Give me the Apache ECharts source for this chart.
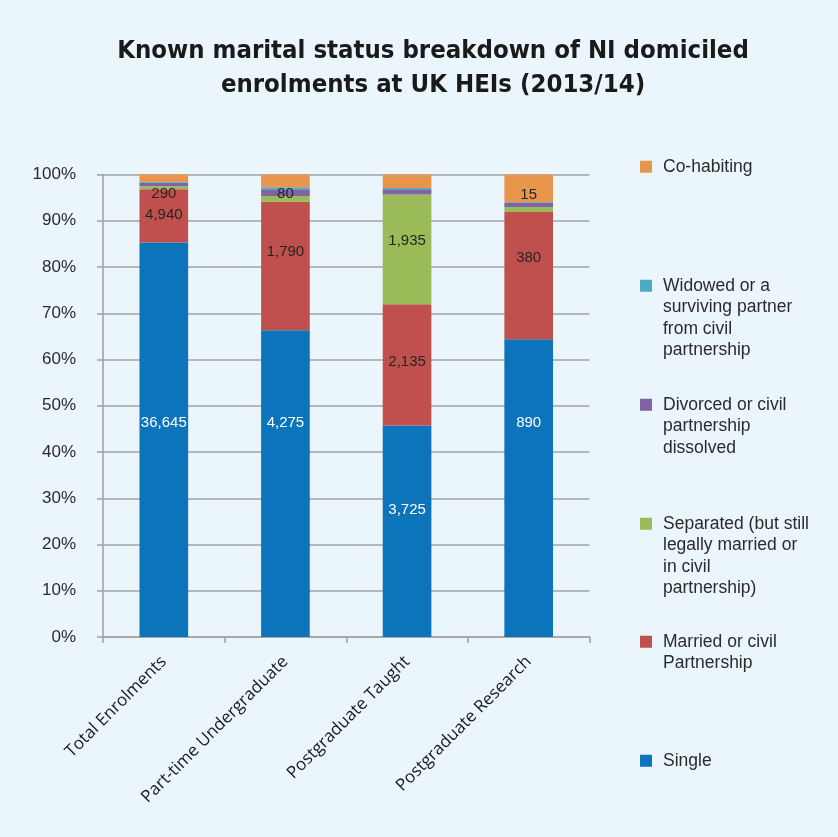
<!DOCTYPE html>
<html>
<head>
<meta charset="utf-8">
<script src="https://cdn.jsdelivr.net/npm/echarts@6/dist/echarts.min.js"></script>
<style>
  html, body { margin: 0; padding: 0; background: #EBF5FC; }
  #chart { width: 838px; height: 837px; }
</style>
</head>
<body>
<div id="chart"></div>
<script>
// Enrolment counts by marital status
const categories = ['Total Enrolments', 'Part-time Undergraduate', 'Postgraduate Taught', 'Postgraduate Research'];
const single     = [36645, 4275, 3725, 890];
const married    = [4940, 1790, 2135, 380];
const separated  = [290, 80, 1935, 15];
const divorced   = [320, 93, 94, 13];
const widowed    = [60, 28, 18, 2];
const cohabiting = [700, 177, 240, 82];

const seriesNames = ['Single', 'Married or civil Partnership', 'Separated (but still legally married or in civil partnership)',
  'Divorced or civil partnership dissolved', 'Widowed or a surviving partner from civil partnership', 'Co-habiting'];
const legendLabels = ['Single', 'Married or civil\nPartnership', 'Separated (but still\nlegally married or\nin civil\npartnership)',
  'Divorced or civil\npartnership\ndissolved', 'Widowed or a\nsurviving partner\nfrom civil\npartnership', 'Co-habiting'];

const counts = [single, married, separated, divorced, widowed, cohabiting];
const colors = ['#0B74BB', '#C0504D', '#9BBB59', '#8064A2', '#4BACC6', '#E8964C'];
const labelled = [true, true, true, false, false, false];
const labelColors = ['#FFFFFF', '#262626', '#262626'];
// vertical nudges for the value labels (px)
const labelShift = [
  [-17, -61, -21, -65],
  [-1, -14, -3, -18],
  [6, -5, -9, -15]
];
// legend entries: top of first text line (px)
const legendTops = [750, 631, 513, 394, 275, 156];

const totals = categories.map((_, i) => counts.reduce((s, arr) => s + arr[i], 0));

const series = counts.map((arr, si) => ({
  name: seriesNames[si],
  type: 'bar',
  stack: 'all',
  barWidth: '40%',
  itemStyle: { color: colors[si] },
  emphasis: { disabled: true },
  data: arr.map((v, i) => {
    const item = { value: v / totals[i] * 100 };
    if (labelled[si]) item.label = { offset: [0, labelShift[si][i]] };
    return item;
  }),
  label: {
    show: labelled[si],
    position: 'inside',
    color: labelColors[si] || '#262626',
    fontFamily: 'Liberation Sans',
    fontSize: 15,
    formatter: p => arr[p.dataIndex].toLocaleString('en-US')
  }
}));

const LH = 21.5;
const legends = seriesNames.map((name, si) => {
  const lines = legendLabels[si].split('\n').length;
  const H = lines * LH;
  const c = LH / 2;
  const icon = 'path://M0,0h0.05v0.05h-0.05z M0,' + (c - 6) + 'h12v12h-12z M17.95,' + (H - 0.05) + 'h0.05v0.05h-0.05z';
  return {
    data: [{ name: name, icon: icon }],
    orient: 'vertical',
    left: 640,
    top: legendTops[si],
    padding: 0,
    itemWidth: 18,
    itemHeight: H,
    selectedMode: false,
    formatter: () => legendLabels[si],
    textStyle: { fontFamily: 'Liberation Sans', fontSize: 17.5, lineHeight: LH, color: '#2b2b2b' }
  };
});

const chart = echarts.init(document.getElementById('chart'), null, { renderer: 'canvas' });
chart.setOption({
  backgroundColor: '#EBF5FC',
  animation: false,
  title: {
    text: 'Known marital status breakdown of NI domiciled\nenrolments at UK HEIs (2013/14)',
    left: 428,
    textAlign: 'center',
    top: 29,
    textStyle: {
      fontFamily: "'DejaVu Sans Condensed', 'DejaVu Sans'",
      fontWeight: 'bold condensed',
      fontSize: 25.5,
      lineHeight: 34,
      color: '#1a1a1a'
    }
  },
  legend: legends,
  grid: { left: 103, right: 248.5, top: 174.5, bottom: 200, containLabel: false },
  xAxis: {
    type: 'category',
    data: categories,
    axisLine: { lineStyle: { color: '#A3A3A3', width: 1.6 } },
    axisTick: { show: true, length: 6, lineStyle: { color: '#A3A3A3', width: 1.6 } },
    axisLabel: {
      rotate: 45,
      margin: 22,
      interval: 0,
      fontFamily: 'Open Sans',
      fontSize: 17,
      color: '#1a1a1a'
    }
  },
  yAxis: {
    type: 'value',
    min: 0,
    max: 100,
    interval: 10,
    axisLine: { show: true, lineStyle: { color: '#A3A3A3', width: 1.6 } },
    axisTick: { show: true, length: 6, lineStyle: { color: '#A3A3A3', width: 1.6 } },
    splitLine: { lineStyle: { color: '#A3A3A3', width: 1.6 } },
    axisLabel: {
      formatter: '{value}%',
      margin: 27,
      fontFamily: 'Liberation Sans',
      fontSize: 17,
      color: '#2b2b2b'
    }
  },
  series: series
});
</script>
</body>
</html>
